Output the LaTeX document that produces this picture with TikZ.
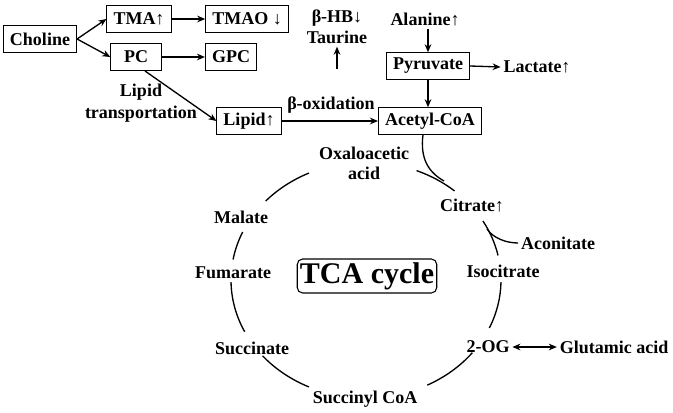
\documentclass[tikz,border=0pt]{standalone}
\usepackage{fontspec}
\setmainfont{Liberation Serif}
\usetikzlibrary{arrows.meta}
\newcommand{\uarr}{{\mdseries ↑}}
\newcommand{\darr}{{\mdseries ↓}}
\begin{document}
\begin{tikzpicture}[x=0.75pt,y=-0.75pt,
  every node/.style={font=\fontsize{13.5}{16}\selectfont\bfseries, inner sep=2pt},
  box/.style={draw, line width=0.6pt, minimum height=20pt, inner xsep=5pt},
  arr/.style={-{Stealth[length=6pt,width=5pt]}, line width=1pt},
  cyc/.style={line width=1pt}]
\useasboundingbox (0,0) rectangle (673,413);
% top-left pathway
\node[box] (choline) at (40,39) {Choline};
\node[box] (tma) at (139,19) {TMA\uarr};
\node[box] (tmao) at (247,19) {TMAO \darr};
\node[box, minimum width=38pt] (pc) at (136,57) {PC};
\node[box] (gpc) at (231,57) {GPC};
\node[box] (lipid) at (249,121) {Lipid\uarr};
\node[align=center, font=\fontsize{13.5}{16.5}\selectfont\bfseries] (lt) at (141,103) {Lipid\\transportation};
\draw[arr] (choline.east) -- (tma.west);
\draw[arr] (choline.east) -- (pc.west);
\draw[arr] (tma) -- (tmao);
\draw[arr] (pc) -- (gpc);
\draw[arr] (145,71) coordinate (pcs) -- (lipid.west);
% beta oxidation
\node (box) at (331,105) {β-oxidation};
\node[align=center, font=\fontsize{13.5}{15.5}\selectfont\bfseries] (bhb) at (337,27) {β-HB\darr\\Taurine};
\coordinate (bst) at (337,69);
\draw[arr] (bst) -- (bhb.south);
% pyruvate
\node (ala) at (425,20) {Alanine\uarr};
\node[box] (pyr) at (428,66) {Pyruvate};
\node (lac) at (537,67) {Lactate\uarr};
\node[box] (acoa) at (430,121) {Acetyl-CoA};
\draw[arr] (ala.south -| pyr.north) -- (pyr.north);
\draw[arr] (pyr.east) -- (lac.west);
\draw[arr] (pyr.south) -- (pyr.south |- acoa.north);
\draw[arr] (lipid.east) -- (acoa.west);
% TCA cycle
\node[align=center, font=\fontsize{13.5}{15}\selectfont\bfseries] (oxa) at (364,163) {Oxaloacetic\\acid};
\node (mal) at (241,217) {Malate};
\node (fum) at (233,273) {Fumarate};
\node (suc) at (252,348) {Succinate};
\node (scoa) at (365,399) {Succinyl CoA};
\node (og) at (488,347) {2-OG};
\node (glu) at (614,347) {Glutamic acid};
\node (iso) at (503,271) {Isocitrate};
\node (cit) at (472,206) {Citrate\uarr};
\node (aco) at (558,243) {Aconitate};
\node[draw, rounded corners=4pt, line width=0.8pt, inner xsep=2pt, inner ysep=2.5pt,
  font=\fontsize{22.5}{22.5}\selectfont\bfseries] (tca) at (367,276) {TCA cycle};
\draw[{Stealth[length=6pt,width=5pt]}-{Stealth[length=6pt,width=5pt]}, line width=1pt] (og.east) -- (glu.west);
\coordinate (cc) at (366,280);
\foreach \a/\b in {115/138, 156/170, 181/206, 220/245, 297/322, 336/359, 12/30, 49/68}{
  \draw[cyc] (cc) ++(\a:135 and -118) arc[start angle=\a, end angle=\b, x radius=135, y radius=-118];
}
% branches into cycle
\coordinate (j1) at (444,181);
\draw[cyc] (acoa.south -| 423,0) .. controls (420,158) and (428,172) .. (j1);
\coordinate (j2) at (487,229);
\draw[cyc] (aco.west) .. controls (506,243) and (493,238) .. (j2);
\end{tikzpicture}
\end{document}
